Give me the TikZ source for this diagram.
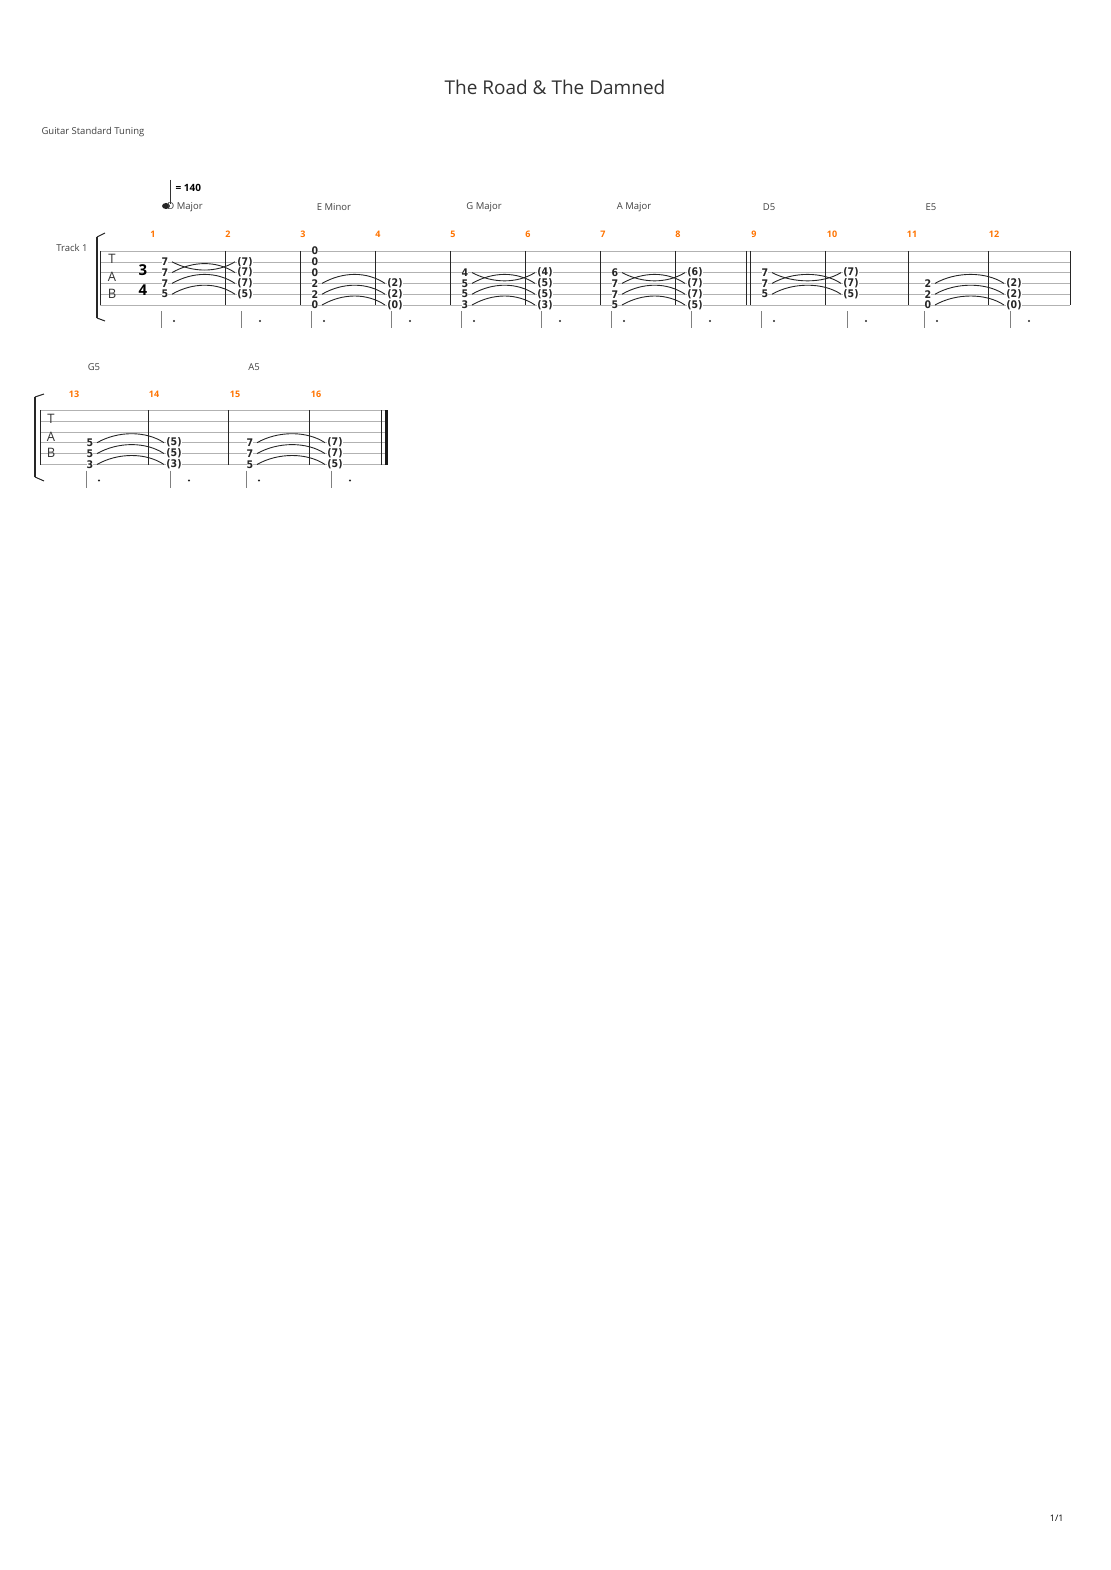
\documentclass[tikz,border=0pt]{standalone}
\usepackage{fontspec}
\setmainfont{Open Sans}
\newfontfamily\fretfont{DejaVu Sans Condensed}
\usepackage{tikz}
\usetikzlibrary{positioning,calc}
\tikzset{
  fret/.style={font=\fretfont\bfseries\fontsize{10.5}{10}\selectfont,inner sep=0pt,fill=white,text=black!85},
  barno/.style={font=\fontsize{9}{10}\selectfont\bfseries,text=orange!90!red},
  chordname/.style={font=\fontsize{9.5}{10}\selectfont,text=black!75},
  staffline/.style={black!30,line width=0.6pt},
  tieline/.style={black!85,line width=0.9pt},
  stemline/.style={black!50,line width=0.8pt}
}
\begin{document}
\begin{tikzpicture}[x=1pt,y=-1pt]
\useasboundingbox (0,0) rectangle (1110,1570);
% header
\node (title) at (555,87) {\fontsize{19}{22}\selectfont\color{black!80}The Road \& The Damned};
\node[anchor=west,chordname] (tuning) at (38,132) {Guitar Standard Tuning};
\node[anchor=east,chordname] (track) at (91,248) {Track 1};
\node[anchor=east,font=\fontsize{9}{10}\selectfont] (page) at (1067,1518) {1/1};
% tempo
\draw[black!80,line width=0.6pt] (170,180) -- (170,204);
\fill[black!85] (166,206) ellipse (4 and 3);
\node[anchor=west,font=\fontsize{10}{12}\selectfont\bfseries] (tempo) at (172,188) {= 140};
% staff 1
\foreach \s in {0,...,5} \draw[staffline] (100,251+10.8*\s) -- (1070,251+10.8*\s);
\foreach \x in {100,225,300,375,450,525,600,675,746,750,825,908,988,1070}
  \draw[black!85,line width=0.7pt] (\x,251) -- (\x,305);
\draw[black!85,line width=1.6pt] (97,237) -- (97,318);
\draw[black!85,line width=1pt] (97,237) -- (105,233) (97,318) -- (105,321);
\node[font=\fontsize{13}{13}\selectfont,text=black!80] (tabT) at (112,259) {T};
\node[font=\fontsize{13}{13}\selectfont,text=black!80] (tabA) at (112,277) {A};
\node[font=\fontsize{13}{13}\selectfont,text=black!80] (tabB) at (112,294) {B};
\node[font=\fontsize{15}{15}\selectfont\bfseries] (num) at (143,270) {3};
\node[font=\fontsize{15}{15}\selectfont\bfseries] (den) at (143,290) {4};
% staff 2
\foreach \s in {0,...,5} \draw[staffline] (40,410+10.9*\s) -- (385,410+10.9*\s);
\foreach \x in {40,148,228,309,381}
  \draw[black!85,line width=0.7pt] (\x,410) -- (\x,465);
\draw[black!90,line width=3pt] (386,410) -- (386,465);
\draw[black!85,line width=1.6pt] (35,397) -- (35,477);
\draw[black!85,line width=1pt] (35,397) -- (44,394) (35,477) -- (44,481);
\node[font=\fontsize{13}{13}\selectfont,text=black!80] (tabT2) at (51,419) {T};
\node[font=\fontsize{13}{13}\selectfont,text=black!80] (tabA2) at (51,437) {A};
\node[font=\fontsize{13}{13}\selectfont,text=black!80] (tabB2) at (51,453) {B};
% bar numbers
\foreach \n/\x/\y in {1/153/234,2/228/234,3/303/234,4/378/234,5/453/234,6/528/234,7/603/234,8/678/234,9/754/234,10/832/234,11/912/234,12/994/234,13/74/394,14/154/394,15/235/394,16/316/394}
  \node[barno] (bar\n) at (\x,\y) {\n};
% chord names
\foreach \c/\x/\y in {D Major/185/207,E Minor/334/207,G Major/484/207,A Major/634/207,D5/769/207,E5/931/207,G5/94/367,A5/254/367}
  \node[chordname] at (\x,\y) {\c};
% notes, ties and rhythm: x of note, x of tied note, top line y, line gap, first string, frets, lowest untied string, string bowing down
\foreach \xa/\xb/\ty/\gap/\first/\frets/\tiefrom/\down [count=\k] in {
  165/245/251/10.8/2/{7,7,7,5}/2/2,
  315/395/251/10.8/1/{0,0,0,2,2,0}/4/0,
  465/545/251/10.8/3/{4,5,5,3}/3/3,
  615/695/251/10.8/3/{6,7,7,5}/3/3,
  765/851/251/10.8/3/{7,7,5}/3/3,
  928/1014/251/10.8/4/{2,2,0}/4/0,
  90/174/410/10.9/4/{5,5,3}/4/0,
  250/335/410/10.9/4/{7,7,5}/4/0}{
  \foreach \f [count=\i] in \frets {
    \pgfmathtruncatemacro{\s}{\first+\i-1}
    \pgfmathsetmacro{\yy}{\ty+\gap*(\s-1)}
    \ifnum\s<\tiefrom\else
      \ifnum\s=\down
        \draw[tieline] (\xa+7,\yy) .. controls (\xa+28,\yy+11) and (\xb-28,\yy+11) .. (\xb-10,\yy);
      \else
        \draw[tieline] (\xa+7,\yy) .. controls (\xa+28,\yy-12) and (\xb-28,\yy-12) .. (\xb-10,\yy);
      \fi
      \node[fret] (tie\k-\s) at (\xb,\yy) {(\f)};
    \fi
    \node[fret] (note\k-\s) at (\xa,\yy) {\f};
  }
  \pgfmathsetmacro{\sy}{\ty+5*\gap}
  \draw[stemline] (\xa-4,\sy+6) -- (\xa-4,\sy+23);
  \draw[stemline] (\xb-4,\sy+6) -- (\xb-4,\sy+23);
  \fill[black!85] (\xa+9,\sy+16) circle (1.2);
  \fill[black!85] (\xb+15,\sy+16) circle (1.2);
}
\end{tikzpicture}
\end{document}
